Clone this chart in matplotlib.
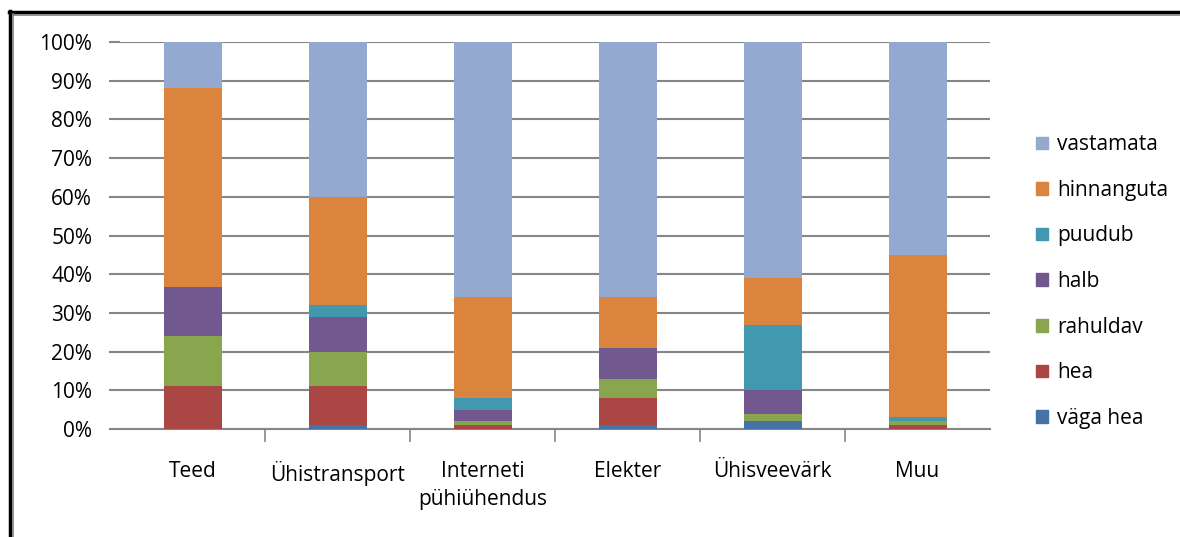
import numpy as np
import matplotlib
matplotlib.use('Agg')
import matplotlib.pyplot as plt
from matplotlib.lines import Line2D
from matplotlib.patches import Patch

plt.rcParams['font.family'] = ['Open Sans', 'DejaVu Sans']

categories = ['Teed', 'Ühistransport', 'Interneti\npühiühendus', 'Elekter', 'Ühisveevärk', 'Muu']
series = ['väga hea', 'hea', 'rahuldav', 'halb', 'puudub', 'hinnanguta', 'vastamata']
colors = ['#4572a7', '#aa4643', '#89a54e', '#71588f', '#4198af', '#db843d', '#93a9cf']

vaga_hea   = [0, 1, 0, 1, 2, 0]
hea        = [11, 10, 1, 7, 0, 1]
rahuldav   = [13, 9, 1, 5, 2, 1]
halb       = [12.6, 9, 3, 8, 6, 0]
puudub     = [0, 3, 3, 0, 17, 1]
hinnanguta = [51.4, 28, 26, 13, 12, 42]
vastamata  = [12, 40, 66, 66, 61, 55]

data = np.array([vaga_hea, hea, rahuldav, halb, puudub, hinnanguta, vastamata], dtype=float)
data = data / data.sum(axis=0) * 100

fig = plt.figure(figsize=(11.8, 5.37), dpi=100)
ax = fig.add_axes([120 / 1180, 1 - 429 / 537, 870 / 1180, 387 / 537])

x = np.arange(len(categories))
bottom = np.zeros(len(categories))
for vals, name, c in zip(data, series, colors):
    ax.bar(x, vals, 0.4, bottom=bottom, color=c, label=name, zorder=3)
    bottom += vals

ax.set_xlim(-0.5, len(categories) - 0.5)
ax.set_ylim(0, 100)
ax.set_yticks(np.arange(0, 101, 10))
ax.set_yticklabels(['{}%'.format(v) for v in range(0, 101, 10)], fontsize=15)
ax.yaxis.grid(True, color='#868686', lw=1.5, zorder=0)
ax.tick_params(axis='y', length=8, color='#868686', width=1.5, pad=12)

ax.set_xticks(np.arange(-0.5, len(categories), 1)[1:-1])
ax.set_xticklabels([])
ax.tick_params(axis='x', length=9, color='#868686', width=1.2)
for i, cat in enumerate(categories):
    ax.text(i, -8.3, cat, ha='center', va='top', fontsize=15, transform=ax.transData,
            linespacing=1.45)

for s in ['top', 'right', 'left']:
    ax.spines[s].set_visible(False)
ax.spines['bottom'].set_color('#868686')
ax.spines['bottom'].set_linewidth(1.5)

handles = [Patch(color=c, label=n) for n, c in zip(series, colors)][::-1]
fig.legend(handles=handles, loc='upper left', bbox_to_anchor=(1028 / 1180, 1 - 126 / 537),
           frameon=False, fontsize=15, handlelength=0.55, handleheight=0.55,
           handletextpad=0.45, labelspacing=1.18, borderaxespad=0)

# frame at top and left
fig.add_artist(Line2D([9 / 1180, 1], [1 - 12 / 537, 1 - 12 / 537], color='black', lw=2.5))
fig.add_artist(Line2D([12 / 1180, 1], [1 - 14.5 / 537, 1 - 14.5 / 537], color='#808080', lw=1.2))
fig.add_artist(Line2D([10 / 1180, 10 / 1180], [0, 1 - 11 / 537], color='black', lw=2.5))
fig.add_artist(Line2D([13 / 1180, 13 / 1180], [0, 1 - 14 / 537], color='#808080', lw=1.2))

plt.savefig('out.png', dpi=100)
